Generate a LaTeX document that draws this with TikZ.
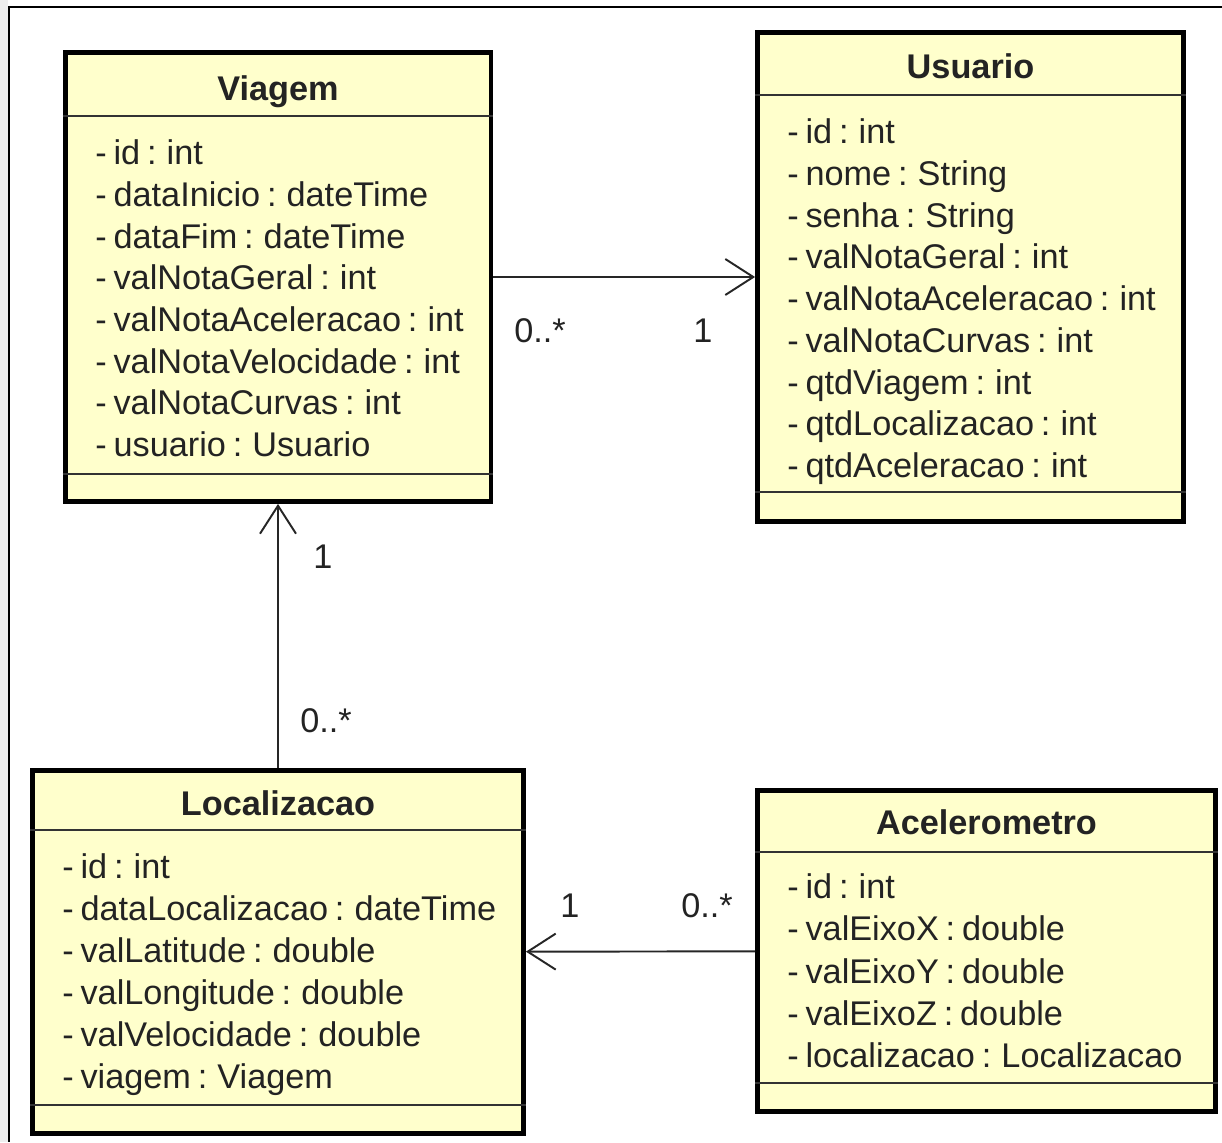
\documentclass[tikz,border=0pt]{standalone}
\usepackage{fontspec}
\setmainfont{Liberation Sans}
\usetikzlibrary{arrows.meta}
\definecolor{classfill}{RGB}{255,255,204}
\definecolor{textgray}{RGB}{35,35,35}
\definecolor{sidegray}{RGB}{238,238,238}
\newcommand\umlsize{\fontsize{19.5}{23}\selectfont\spaceskip=0.2em plus 0.05em\relax}

\tikzset{
  classbox/.style={draw=black, fill=classfill, line width=2.8pt, inner sep=0pt},
  divider/.style={draw=black!80, line width=1.1pt},
  title/.style={font=\umlsize\bfseries, anchor=mid, inner sep=0pt, text=textgray},
  attr/.style={font=\umlsize, anchor=mid west, inner sep=0pt, text=textgray},
  mult/.style={font=\umlsize, anchor=mid, inner sep=0pt, text=textgray},
  assoc/.style={-{Straight Barb[length=0.56cm, width=0.72cm, line width=1.1pt]}, line width=1.1pt, draw=black!85}
}

\begin{document}
\begin{tikzpicture}[x={(0.02cm,0)}, y={(0,-0.02cm)}]

    % frame of the screenshot
    \fill[white] (0,0) rectangle (1222,1142);
    \fill[sidegray] (0,0) rectangle (8,1142);
    \useasboundingbox (0,0) rectangle (1222,1142);
    \draw[line width=1.1pt] (8,7) -- (1222,7);
    \draw[line width=1.1pt] (9,7) -- (9,1142);

    % classes
    \node[classbox, minimum width=8.52cm, minimum height=8.98cm] (viagem) at (278,277) {};
    \node[classbox, minimum width=8.52cm, minimum height=9.78cm] (usuario) at (970.5,277) {};
    \node[classbox, minimum width=9.82cm, minimum height=7.26cm] (localizacao) at (278,952) {};
    \node[classbox, minimum width=9.16cm, minimum height=6.42cm] (acelerometro) at (986.5,951) {};

    \draw[divider] (viagem.west |- 0,116) -- (viagem.east |- 0,116);
    \draw[divider] (viagem.west |- 0,474) -- (viagem.east |- 0,474);
    \draw[divider] (usuario.west |- 0,95) -- (usuario.east |- 0,95);
    \draw[divider] (usuario.west |- 0,492) -- (usuario.east |- 0,492);
    \draw[divider] (localizacao.west |- 0,830) -- (localizacao.east |- 0,830);
    \draw[divider] (localizacao.west |- 0,1105) -- (localizacao.east |- 0,1105);
    \draw[divider] (acelerometro.west |- 0,852) -- (acelerometro.east |- 0,852);
    \draw[divider] (acelerometro.west |- 0,1083) -- (acelerometro.east |- 0,1083);

    \node[title] (viagem-t) at (278,96) {Viagem};
    \node[title] (usuario-t) at (970.5,74) {Usuario};
    \node[title] (localizacao-t) at (278,811) {Localizacao};
    \node[title] (acelerometro-t) at (986.5,830) {Acelerometro};

    \foreach \t [count=\i from 0] in {- id : int, - dataInicio : dateTime, - dataFim : dateTime,
        - valNotaGeral : int, - valNotaAceleracao : int, - valNotaVelocidade : int,
        - valNotaCurvas : int, - usuario : Usuario}
      \node[attr] (va\i) at (95,160+41.7*\i) {\t};

    \foreach \t [count=\i from 0] in {- id : int, - nome : String, - senha : String,
        - valNotaGeral : int, - valNotaAceleracao : int, - valNotaCurvas : int,
        - qtdViagem : int, - qtdLocalizacao : int, - qtdAceleracao : int}
      \node[attr] (ua\i) at (787,139+41.75*\i) {\t};

    \foreach \t [count=\i from 0] in {- id : int, - dataLocalizacao : dateTime, - valLatitude : double,
        - valLongitude : double, - valVelocidade : double, - viagem : Viagem}
      \node[attr] (la\i) at (62,874+42*\i) {\t};

    \foreach \t [count=\i from 0] in {- id : int, - valEixoX : double, - valEixoY : double,
        - valEixoZ : double, - localizacao : Localizacao}
      \node[attr] (aa\i) at (787,894+42.2*\i) {\t};

    % associations
    \draw[assoc] (viagem) -- (usuario);
    \draw[assoc] (localizacao) -- (viagem);
    \draw[assoc] (acelerometro) -- (localizacao);

    \node[mult] (m1) at (540,338) {0..*};
    \node[mult] (m2) at (703,338) {1};
    \node[mult] (m3) at (323,564) {1};
    \node[mult] (m4) at (326,728) {0..*};
    \node[mult] (m5) at (570,913) {1};
    \node[mult] (m6) at (707,913) {0..*};

\end{tikzpicture}
\end{document}
